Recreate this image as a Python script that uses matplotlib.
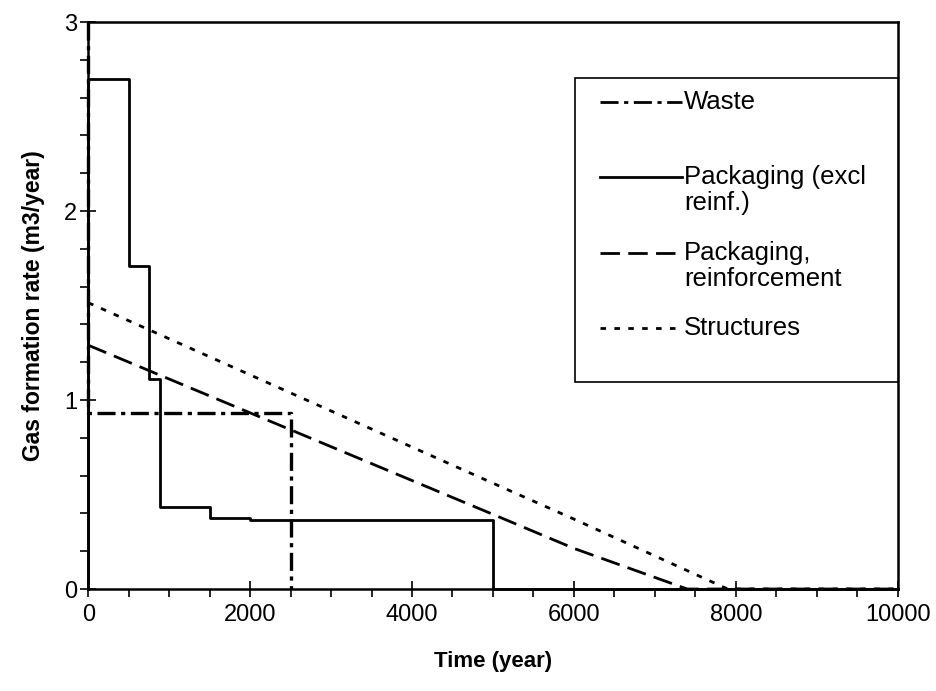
import matplotlib.pyplot as plt
from matplotlib.patches import Rectangle
from matplotlib.ticker import MultipleLocator

plt.rcParams['font.family'] = ['Liberation Sans', 'DejaVu Sans']
plt.rcParams['lines.scale_dashes'] = False

# step curves, time in years, rate in m3/year
waste_t = [0, 0, 2500, 2500]
waste_r = [3.0, 0.93, 0.93, 0.0]

pack_t = [0, 0, 500, 500, 750, 750, 890, 890, 1500, 1500, 2000, 2000, 5000, 5000, 10000]
pack_r = [0, 2.70, 2.70, 1.71, 1.71, 1.11, 1.11, 0.435, 0.435, 0.378, 0.378, 0.367, 0.367, 0.0, 0.0]

reinf_t = [0, 5000, 6000, 7400, 10000]
reinf_r = [1.29, 0.395, 0.215, 0.0, 0.0]

struct_t = [0, 5000, 6000, 7900, 10000]
struct_r = [1.515, 0.56, 0.37, 0.0, 0.0]

legend_labels = ["Waste", "Packaging (excl\nreinf.)", "Packaging,\nreinforcement", "Structures"]

styles = {
    "waste": (0, (13, 4, 3, 4)),
    "pack": "solid",
    "reinf": (0, (14, 6)),
    "struct": (0, (4, 6)),
}

fig = plt.figure(figsize=(9.37, 6.91), dpi=100)
ax = fig.add_axes([0.0942, 0.1476, 0.8638, 0.8205])

lw = 2.0
ax.plot(waste_t, waste_r, color="black", lw=2.4, linestyle=styles["waste"], clip_on=False)
ax.plot(pack_t, pack_r, color="black", lw=lw, linestyle=styles["pack"], clip_on=False)
ax.plot(reinf_t, reinf_r, color="black", lw=lw, linestyle=styles["reinf"], clip_on=False)
ax.plot(struct_t, struct_r, color="black", lw=lw, linestyle=styles["struct"], clip_on=False)

ax.set_xlim(0, 10000)
ax.set_ylim(0, 3)
ax.xaxis.set_major_locator(MultipleLocator(2000))
ax.xaxis.set_minor_locator(MultipleLocator(500))
ax.yaxis.set_major_locator(MultipleLocator(1))
ax.yaxis.set_minor_locator(MultipleLocator(0.2))
ax.tick_params(which="major", direction="inout", length=12, width=1.2, labelsize=17, pad=2)
ax.tick_params(axis="x", which="major", pad=5)
ax.tick_params(which="minor", direction="out", length=6, width=1.2)
for s in ax.spines.values():
    s.set_linewidth(1.8)

ax.set_xlabel("Time (year)", fontsize=16, fontweight="bold", labelpad=18)
ax.set_ylabel("Gas formation rate (m3/year)", fontsize=16.5, fontweight="bold", labelpad=14)

# legend box drawn by hand so the handles line up with the first text line
box = Rectangle((0.601, 0.365), 0.399, 0.536, transform=ax.transAxes,
                facecolor="white", edgecolor="black", lw=1.2, zorder=5)
ax.add_patch(box)
handle_y = [0.859, 0.727, 0.593, 0.460]
line_step = 0.046
keys = ["waste", "pack", "reinf", "struct"]
for y, k, lab in zip(handle_y, keys, legend_labels):
    ax.plot([0.632, 0.733], [y, y], transform=ax.transAxes, color="black",
            lw=lw, linestyle=styles[k], zorder=6)
    for i, part in enumerate(lab.split("\n")):
        ax.text(0.736, y - i * line_step, part, transform=ax.transAxes,
                fontsize=18.5, va="center", ha="left", zorder=6)

fig.savefig("out.png", dpi=100)
